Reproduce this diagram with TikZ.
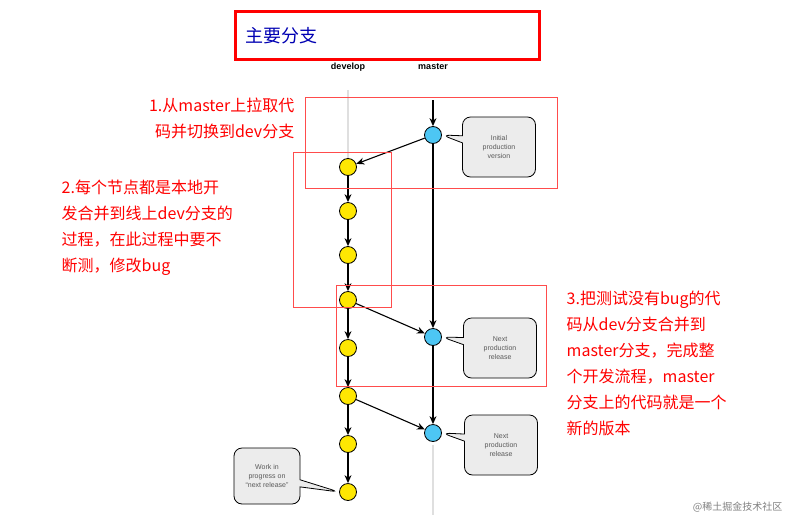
\documentclass[tikz,border=0pt]{standalone}
\usepackage{fontspec}
\setmainfont{Liberation Sans}
\newfontfamily\cjk{Noto Sans CJK SC}
\usetikzlibrary{shapes.callouts,arrows.meta}
\begin{document}
\begin{tikzpicture}[x=1pt, y=-1pt, thick,
    dev node/.style={circle, draw, fill=yellow!90!orange, minimum size=17pt, inner sep=0pt},
    main node/.style={circle, draw, fill=cyan!70, minimum size=17pt, inner sep=0pt},
    note/.style={rectangle callout, rounded corners=8pt, draw, fill=gray!15, thick,
                 minimum width=73pt, minimum height=60pt, align=center,
                 font=\fontsize{7}{9}\selectfont, text=gray!70!black},
    flow/.style={-{Stealth[length=8pt,width=7pt]}, line width=1.1pt},
    hint/.style={red, font=\cjk\fontsize{16}{26}\selectfont, align=left},
    frame/.style={draw=red!70, line width=0.6pt}]
  \useasboundingbox (0,0) rectangle (790,520);

  % title
  \draw[red, line width=3pt] (235,11) rectangle (539,59);
  \node[anchor=west, blue!70!black, font=\cjk\fontsize{18}{20}\selectfont] (title) at (242,36) {主要分支};
  \node[font=\bfseries\fontsize{9}{10}\selectfont] (devlabel) at (348,67) {develop};
  \node[font=\bfseries\fontsize{9}{10}\selectfont] (mlabel) at (433,67) {master};

  % branch lines
  \coordinate (dtop) at (348,90);
  \coordinate (mtop) at (433,100);
  \coordinate (mend) at (433,515);
  \draw[gray!25, line width=2pt] (dtop) -- (348,160);
  \draw[gray!25, line width=2pt] (433,445) -- (mend);

  % commits
  \node[main node] (m1) at (433,135) {};
  \node[main node] (m2) at (433,337) {};
  \node[main node] (m3) at (433,433) {};
  \foreach \i/\y in {1/167,2/211,3/255,4/300,5/348,6/396,7/444,8/492}
    \node[dev node] (d\i) at (348,\y) {};

  \draw[flow] (mtop) -- (m1);
  \draw[flow] (m1) -- (m2);
  \draw[flow] (m2) -- (m3);
  \draw[flow] (m1) -- (d1);
  \foreach \i [evaluate=\i as \j using int(\i+1)] in {1,...,7}
    \draw[flow] (d\i) -- (d\j);
  \draw[flow] (d4) -- (m2);
  \draw[flow] (d6) -- (m3);

  % notes
  \node[note, callout absolute pointer={(m1.east)}] (n1) at (499,147) {Initial\\production\\version};
  \node[note, callout absolute pointer={(m2.east)}] (n2) at (500,348) {Next\\production\\release};
  \node[note, callout absolute pointer={(m3.east)}] (n3) at (501,445) {Next\\production\\release};
  \node[note, minimum width=66pt, minimum height=56pt, callout absolute pointer={(d8.west)}] (n4) at (267,476) {Work in\\progress on\\``next release''};

  % red frames
  \draw[frame] (305,97) rectangle (557,188);
  \draw[frame] (293,152) rectangle (391,307);
  \draw[frame] (336,285) rectangle (546,386);

  % hints
  \node[hint, anchor=north east, align=right] (h1) at (298,94) {1.从master上拉取代\\码并切换到dev分支};
  \node[hint, anchor=north west] (h2) at (58,176) {2.每个节点都是本地开\\发合并到线上dev分支的\\过程，在此过程中要不\\断测，修改bug};
  \node[hint, anchor=north west] (h3) at (563,287) {3.把测试没有bug的代\\码从dev分支合并到\\master分支，完成整\\个开发流程，master\\分支上的代码就是一个\\新的版本};

  \node[anchor=south east, gray, font=\cjk\fontsize{10}{12}\selectfont] (mark) at (786,516) {@稀土掘金技术社区};
\end{tikzpicture}
\end{document}
